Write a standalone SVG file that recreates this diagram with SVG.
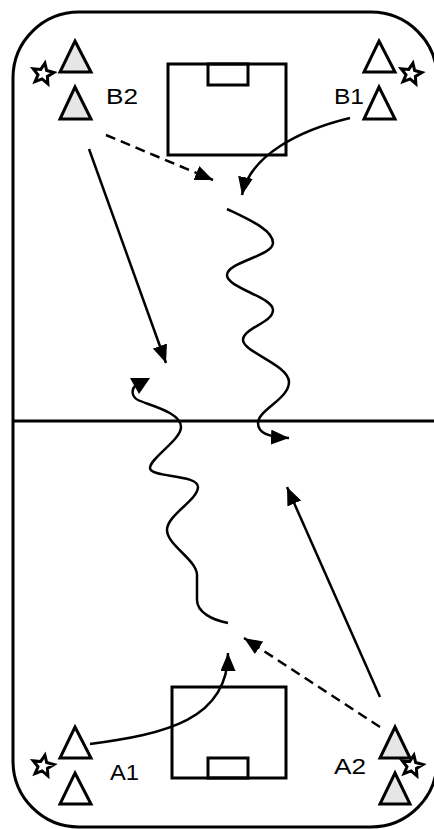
<svg xmlns="http://www.w3.org/2000/svg" width="434" height="829" viewBox="0 0 434 829">
<style>
.field{fill:none;stroke:#000;stroke-width:3}
.goal{fill:none;stroke:#000;stroke-width:3}
.cone{stroke:#000;stroke-width:3;stroke-linejoin:miter}
.gray{fill:#e6e6e6}
.white{fill:#fff}
.star{fill:#fff;stroke:#000;stroke-width:3;stroke-linejoin:miter}
.lbl{font-family:"Liberation Sans",Arial,sans-serif;font-size:22px;fill:#000}
.run{fill:none;stroke:#000;stroke-width:2.5}
.dash{stroke-dasharray:10 6}
</style>
<defs>
<marker id="ah" markerUnits="userSpaceOnUse" markerWidth="20" markerHeight="16" refX="18" refY="7.5" orient="auto">
<path d="M0,0 L18,7.5 L0,15 z" fill="#000"/>
</marker>
<polygon id="starShape" points="0,-11 3,-4.1 10.5,-3.4 4.8,1.6 6.5,8.9 0,5 -6.5,8.9 -4.8,1.6 -10.5,-3.4 -3,-4.1"/>
</defs>
<g id="field">
<rect class="field" x="13" y="12" width="424" height="815" rx="66" ry="66"/>
<line class="field" x1="13" y1="421" x2="434" y2="421"/>
</g>
<g id="goal-top">
<rect class="goal" x="168" y="64" width="118" height="91"/>
<rect class="goal" x="208" y="64" width="40" height="21"/>
</g>
<g id="goal-bottom">
<rect class="goal" x="172" y="687" width="114" height="91"/>
<rect class="goal" x="208" y="758" width="40" height="20"/>
</g>
<g id="B2">
<polygon class="cone gray" points="75,41 91,72 60,72"/>
<polygon class="cone gray" points="75,87 91,119 60,119"/>
<use href="#starShape" class="star" transform="translate(43,74) rotate(10)"/>
<text class="lbl" x="106" y="104" textLength="32" lengthAdjust="spacingAndGlyphs">B2</text>
</g>
<g id="B1">
<polygon class="cone white" points="379,41 395,72 364,72"/>
<polygon class="cone white" points="379,87 395,119 364,119"/>
<use href="#starShape" class="star" transform="translate(411,74) rotate(10)"/>
<text class="lbl" x="334" y="104" textLength="30" lengthAdjust="spacingAndGlyphs">B1</text>
</g>
<g id="A1">
<polygon class="cone white" points="75,727 91,758 60,758"/>
<polygon class="cone white" points="75,773 91,804 60,804"/>
<use href="#starShape" class="star" transform="translate(43,766) rotate(10)"/>
<text class="lbl" x="110" y="780" textLength="29" lengthAdjust="spacingAndGlyphs">A1</text>
</g>
<g id="A2">
<polygon class="cone gray" points="395,727 410,758 380,758"/>
<polygon class="cone gray" points="395,773 410,804 380,804"/>
<use href="#starShape" class="star" transform="translate(412,766) rotate(10)"/>
<text class="lbl" x="334" y="774" textLength="32" lengthAdjust="spacingAndGlyphs">A2</text>
</g>
<g id="connectors">
<line class="run dash" x1="106" y1="135" x2="213" y2="180" marker-end="url(#ah)"/>
<line class="run" x1="89" y1="149" x2="166" y2="363" marker-end="url(#ah)"/>
<path class="run" d="M350,118 C300,130 250,155 242,195" marker-end="url(#ah)"/>
<path class="run" d="M227,209 C250,220 273,230 273,243 S227,262 227,275 S273,297 273,310 S243,328 243,340 S289,365 289,382 S258,410 258,423 C258,433 268,437 289,438" marker-end="url(#ah)"/>
<path class="run" d="M228,623 C212,620 197,612 197,600 L197,575 C197,560 167,545 167,530 S198,500 198,487 S150,478 150,468 S181,440 181,427 C181,412 148,405 138,400 C132,397 131,390 135,386"/>
<polygon points="130,378 150,378 139,394" fill="#000"/>
<path class="run" d="M90,744 C165,734 228,720 228,653" marker-end="url(#ah)"/>
<line class="run dash" x1="380" y1="727" x2="244" y2="638" marker-end="url(#ah)"/>
<line class="run" x1="380" y1="697" x2="287" y2="487" marker-end="url(#ah)"/>
</g>
</svg>
